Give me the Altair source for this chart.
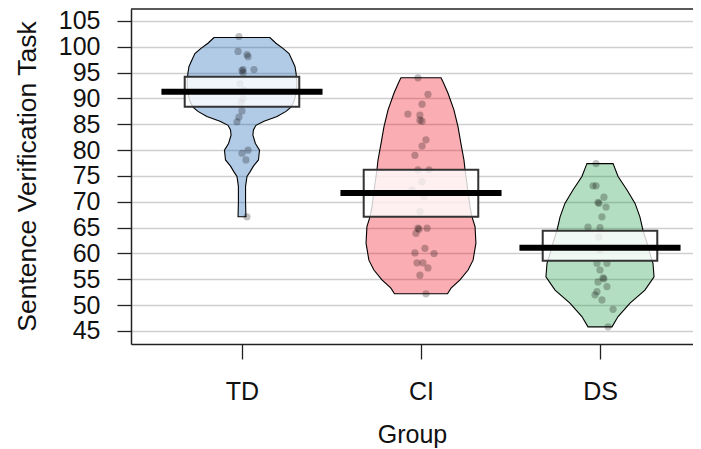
import altair as alt
import pandas as pd

# ---------------- data ----------------
groups = ["TD", "CI", "DS"]
centers = [1, 2, 3]
bean_colors = ["#0C5BB0", "#EE0011", "#15983D"]

means = [91.3, 71.7, 61.1]
inf_low = [88.4, 67.1, 58.6]
inf_high = [94.2, 76.2, 64.4]

td_values = [102.0, 99.1, 98.5, 98.1, 95.6, 95.4, 95.6, 95.0, 92.9, 91.6, 90.0,
             89.3, 87.6, 86.4, 85.5, 80.0, 79.4, 78.1, 67.1]
td_jitter = [-0.017, -0.022, 0.028, 0.034, 0.006, 0.0, 0.067, 0.006, -0.011, 0.011,
             0.006, -0.006, 0.0, -0.017, -0.028, 0.034, 0.0, 0.022, 0.028]

ci_values = [94.0, 90.8, 88.9, 87.0, 86.8, 85.8, 85.6, 82.0, 80.8, 79.0, 76.2, 76.2,
             73.9, 72.3, 71.0, 68.1, 64.9, 64.7, 64.9, 63.9, 61.0, 60.1, 60.0, 58.2,
             58.2, 57.2, 55.8, 52.2]
ci_jitter = [-0.017, 0.039, 0.006, -0.073, -0.006, -0.006, 0.006, 0.028, 0.006, -0.034,
             -0.017, 0.045, 0.006, -0.050, 0.017, -0.006, -0.017, -0.011, 0.034, -0.028,
             0.022, -0.034, 0.073, -0.022, 0.011, 0.039, -0.006, 0.028]

ds_values = [77.4, 73.1, 73.1, 70.9, 69.9, 69.7, 69.0, 67.1, 65.1, 65.0, 63.2, 60.7,
             58.1, 58.1, 56.8, 55.3, 55.1, 54.5, 53.6, 52.6, 52.0, 51.0, 49.2, 45.8]
ds_jitter = [-0.022, -0.039, -0.022, 0.022, -0.011, -0.006, 0.034, 0.011, -0.067, 0.0,
             -0.006, 0.0, -0.017, 0.039, 0.0, 0.017, 0.022, -0.011, 0.039, -0.017,
             -0.028, 0.011, 0.073, 0.045]

# bean (violin) outlines: value level and half-width (x units)
td_bean_y = [101.8, 100.7, 99.7, 98.7, 97.5, 96.2, 94.9, 93.0, 91.0, 89.5, 88.3, 87.5,
             86.5, 85.6, 84.8, 83.9, 82.9, 81.3, 80.0, 78.1, 76.9, 75.8, 74.9, 73.0,
             70.0, 67.1]
td_bean_w = [0.156, 0.190, 0.229, 0.263, 0.279, 0.296, 0.302, 0.307, 0.302, 0.291,
             0.274, 0.246, 0.196, 0.123, 0.078, 0.064, 0.061, 0.075, 0.098, 0.092,
             0.064, 0.045, 0.028, 0.020, 0.020, 0.022]

ci_bean_y = [94.0, 93.0, 91.0, 87.8, 84.5, 81.3, 78.1, 76.2, 72.0, 69.0, 67.1, 65.2,
             62.0, 58.7, 56.8, 54.9, 53.3, 52.2]
ci_bean_w = [0.112, 0.126, 0.151, 0.184, 0.207, 0.223, 0.240, 0.246, 0.263, 0.274,
             0.285, 0.302, 0.307, 0.291, 0.263, 0.218, 0.168, 0.148]

ds_bean_y = [77.4, 74.9, 72.3, 69.7, 67.1, 64.5, 62.0, 60.0, 58.1, 55.5, 52.9, 50.4,
             47.8, 45.8]
ds_bean_w = [0.073, 0.101, 0.151, 0.196, 0.223, 0.240, 0.263, 0.279, 0.296, 0.302,
             0.251, 0.168, 0.101, 0.067]

y_ticks = [45, 50, 55, 60, 65, 70, 75, 80, 85, 90, 95, 100, 105]

# ---------------- tables ----------------
point_sets = [(td_values, td_jitter), (ci_values, ci_jitter), (ds_values, ds_jitter)]
bean_sets = [(td_bean_y, td_bean_w), (ci_bean_y, ci_bean_w), (ds_bean_y, ds_bean_w)]

pts_rows, bean_rows, summ_rows = [], [], []
for g, c, (vals, jit), (by, bw), m, lo, hi in zip(groups, centers, point_sets, bean_sets,
                                                 means, inf_low, inf_high):
    for v, j in zip(vals, jit):
        pts_rows.append({"group": g, "xp": c + j, "val": v})
    for v, w in sorted(zip(by, bw)):
        bean_rows.append({"group": g, "val": v, "xl": c - w, "xr": c + w})
    summ_rows.append({"group": g, "c": c, "mean": m, "lo": lo, "hi": hi})

pts = pd.DataFrame(pts_rows)
beans = pd.DataFrame(bean_rows)
summ = pd.DataFrame(summ_rows)

BOX_HW = 0.32
LINE_HW = 0.45
summ["bl"] = summ["c"] - BOX_HW
summ["br"] = summ["c"] + BOX_HW
summ["ml"] = summ["c"] - LINE_HW
summ["mr"] = summ["c"] + LINE_HW

W, H = 562, 335
FONT = "Liberation Sans"

label_expr = " : ".join(
    [f"datum.value == {c} ? '{g}'" for c, g in zip(centers, groups)]) + " : ''"

xscale = alt.Scale(domain=[0.38, 3.5196], nice=False, zero=False)
yscale = alt.Scale(domain=[42.48, 107.32], nice=False, zero=False)

xaxis = alt.Axis(values=centers, labelExpr=label_expr, title="Group", grid=False,
                 tickSize=15, tickColor="#222", tickWidth=1.3, domainColor="#222",
                 domainWidth=1.5, labelFont=FONT, labelFontSize=25, labelColor="#111",
                 labelPadding=20, titleFont=FONT, titleFontSize=25, titleFontWeight="normal",
                 titleColor="#111", titleY=98, titleBaseline="alphabetic")
yaxis = alt.Axis(values=y_ticks, title="Sentence Verification Task", grid=True,
                 gridColor="#cfcfcf", gridWidth=1.5, tickSize=14, tickColor="#222",
                 tickWidth=1.3, domainColor="#222", domainWidth=1.5, labelFont=FONT,
                 labelFontSize=25, labelColor="#111", labelPadding=17,
                 labelBaseline="middle", titleFont=FONT, titleFontSize=26.5,
                 titleFontWeight="normal", titleColor="#111", titleX=-96, titleY=167,
                 titleBaseline="alphabetic", titleAngle=270)


def X(field, **kw):
    return alt.X(field, type="quantitative", scale=xscale, axis=xaxis, **kw)


def Y(field):
    return alt.Y(field, type="quantitative", scale=yscale, axis=yaxis)


bean_layer = alt.Chart(beans).mark_area(
    orient="horizontal", fillOpacity=0.32, stroke="black", strokeWidth=1.1
).encode(
    y=Y("val"), x=X("xl", stack=None), x2="xr",
    color=alt.Color("group:N", scale=alt.Scale(domain=groups, range=bean_colors), legend=None),
)

point_layer = alt.Chart(pts).mark_circle(size=52, color="black", opacity=0.25).encode(
    x=X("xp"), y=Y("val")
)

box_layer = alt.Chart(summ).mark_rect(
    fill="white", fillOpacity=0.8, stroke="#333", strokeWidth=2
).encode(x=X("bl"), x2="br", y=Y("lo"), y2="hi")

mean_layer = alt.Chart(summ).mark_rule(color="black", strokeWidth=6).encode(
    x=X("ml"), x2="mr", y=Y("mean")
)

top_frame = alt.Chart().mark_rule(color="#222", strokeWidth=1.5).encode(
    x=alt.value(0), x2=alt.value(W), y=alt.value(0)
)

chart = alt.layer(bean_layer, point_layer, box_layer, mean_layer, top_frame).properties(
    width=W, height=H,
    padding={"left": 123, "top": 1, "right": 0, "bottom": 104},
    autosize=alt.AutoSizeParams(type="none"),
    background="white",
).configure_view(stroke=None)

chart.save("out.html", embed_options={"renderer": "svg", "actions": False})
